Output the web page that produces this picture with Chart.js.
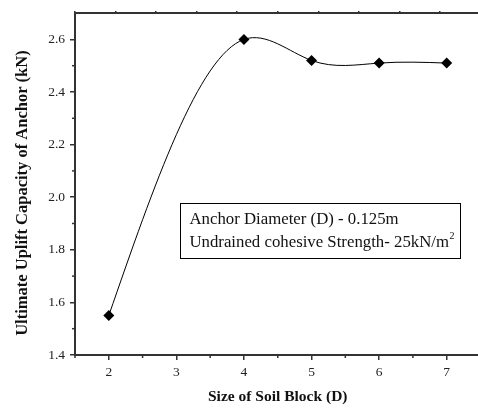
<!DOCTYPE html>
<html><head><meta charset="utf-8">
<script src="https://cdn.jsdelivr.net/npm/chart.js@4/dist/chart.umd.min.js"></script>
<style>html,body{margin:0;padding:0;background:#fff;overflow:hidden;width:478px;height:408px}
#wrap{width:486px;height:408px;position:relative}</style></head>
<body><div id="wrap"><canvas id="c" width="486" height="408"></canvas></div>
<script>
const soilBlockSize = [2, 4, 5, 6, 7];
const upliftCapacity = [1.55, 2.60, 2.52, 2.51, 2.51];
const xTickLabels = ['2', '3', '4', '5', '6', '7'];
const yTickLabels = ['1.4', '1.6', '1.8', '2.0', '2.2', '2.4', '2.6'];
const xTitle = 'Size of Soil Block (D)';
const yTitle = 'Ultimate Uplift Capacity of Anchor (kN)';
const noteLines = ['Anchor Diameter (D) - 0.125m', 'Undrained cohesive Strength- 25kN/m'];
const noteSup = '2';

const SERIF = '"Liberation Serif", "Times New Roman", serif';
const AXIS = '#333';

const points = soilBlockSize.map((x, i) => ({x: x, y: upliftCapacity[i]}));

function isMajorX(v) { return xTickLabels.includes(String(Math.round(v * 10) / 10)); }
function isMajorY(v) { return yTickLabels.includes((Math.round(v * 10) / 10).toFixed(1)); }

// Natural cubic spline second derivatives (like Origin's spline connection)
function splineSecondDerivs(X, Y) {
  const n = X.length, M = new Array(n).fill(0);
  if (n < 3) return M;
  const a = [], b = [], c = [], d = [];
  for (let i = 1; i < n - 1; i++) {
    const h0 = X[i] - X[i - 1], h1 = X[i + 1] - X[i];
    a.push(h0); b.push(2 * (h0 + h1)); c.push(h1);
    d.push(6 * ((Y[i + 1] - Y[i]) / h1 - (Y[i] - Y[i - 1]) / h0));
  }
  const m = b.length;
  for (let i = 1; i < m; i++) {
    const w = a[i] / b[i - 1];
    b[i] -= w * c[i - 1]; d[i] -= w * d[i - 1];
  }
  const sol = new Array(m);
  sol[m - 1] = d[m - 1] / b[m - 1];
  for (let i = m - 2; i >= 0; i--) sol[i] = (d[i] - c[i] * sol[i + 1]) / b[i];
  for (let i = 0; i < m; i++) M[i + 1] = sol[i];
  return M;
}

const naturalSpline = {
  id: 'naturalSpline',
  beforeDatasetDraw(chart, args) {
    const meta = args.meta, pts = meta.data, xs = chart.scales.x, ys = chart.scales.y;
    const X = soilBlockSize, Y = upliftCapacity, M = splineSecondDerivs(X, Y);
    for (let i = 0; i < X.length - 1; i++) {
      const h = X[i + 1] - X[i], s = (Y[i + 1] - Y[i]) / h;
      const mL = s - h * (2 * M[i] + M[i + 1]) / 6;
      const mR = s + h * (M[i] + 2 * M[i + 1]) / 6;
      pts[i].cp2x = xs.getPixelForValue(X[i] + h / 3);
      pts[i].cp2y = ys.getPixelForValue(Y[i] + h * mL / 3);
      pts[i + 1].cp1x = xs.getPixelForValue(X[i + 1] - h / 3);
      pts[i + 1].cp1y = ys.getPixelForValue(Y[i + 1] - h * mR / 3);
    }
    pts[0].cp1x = pts[0].x; pts[0].cp1y = pts[0].y;
    const last = pts[pts.length - 1];
    last.cp2x = last.x; last.cp2y = last.y;
    meta.dataset._pointsUpdated = true;
    meta.dataset._path = undefined;
  }
};

const minorTicks = {
  id: 'minorTicks',
  afterDraw(chart) {
    const ctx = chart.ctx, xs = chart.scales.x, ys = chart.scales.y;
    ctx.save();
    ctx.strokeStyle = AXIS; ctx.lineWidth = 1.5;
    xs.ticks.forEach(t => {
      if (!isMajorX(t.value)) {
        const px = xs.getPixelForValue(t.value);
        ctx.beginPath(); ctx.moveTo(px, xs.top); ctx.lineTo(px, xs.top + 3); ctx.stroke();
      }
    });
    ys.ticks.forEach(t => {
      if (!isMajorY(t.value) && t.value < ys.max) {
        const py = ys.getPixelForValue(t.value);
        ctx.beginPath(); ctx.moveTo(ys.right, py); ctx.lineTo(ys.right - 3, py); ctx.stroke();
      }
    });
    // y axis title
    const cy = (chart.chartArea.top + chart.chartArea.bottom) / 2 + 9;
    ctx.translate(27, cy);
    ctx.rotate(-Math.PI / 2);
    ctx.font = 'bold 16.5px ' + SERIF;
    ctx.fillStyle = '#111';
    ctx.textAlign = 'center';
    ctx.textBaseline = 'alphabetic';
    ctx.fillText(yTitle, 0, 0);
    ctx.restore();
  }
};

const noteBox = {
  id: 'noteBox',
  afterDraw(chart) {
    const ctx = chart.ctx, xs = chart.scales.x, ys = chart.scales.y;
    const l = xs.getPixelForValue(3.06), r = xs.getPixelForValue(7.21);
    const t = ys.getPixelForValue(1.979), b = ys.getPixelForValue(1.769);
    ctx.save();
    ctx.strokeStyle = '#000'; ctx.lineWidth = 1;
    ctx.strokeRect(Math.round(l) + 0.5, Math.round(t) + 0.5, Math.round(r - l), Math.round(b - t));
    ctx.fillStyle = '#111';
    ctx.textBaseline = 'alphabetic';
    ctx.font = '16.8px ' + SERIF;
    ctx.fillText(noteLines[0], l + 9, t + 21);
    ctx.fillText(noteLines[1], l + 9, t + 44.5);
    const w = ctx.measureText(noteLines[1]).width;
    ctx.font = '10px ' + SERIF;
    ctx.fillText(noteSup, l + 9 + w + 0.5, t + 36);
    ctx.restore();
  }
};

new Chart(document.getElementById('c'), {
  type: 'line',
  data: {
    datasets: [{
      data: points,
      borderColor: '#000',
      borderWidth: 1,
      backgroundColor: '#000',
      pointStyle: 'rectRot',
      pointRadius: 5.5,
      pointBorderWidth: 0,
      pointBackgroundColor: '#000',
      tension: 0.4,
      fill: false
    }]
  },
  options: {
    responsive: false,
    animation: false,
    layout: {padding: {left: 0, right: 1, top: 0, bottom: 0}},
    plugins: {legend: {display: false}, tooltip: {enabled: false}},
    scales: {
      x: {
        type: 'linear', min: 1.5, max: 7.5,
        afterFit(s) { s.height = 53; },
        border: {display: true, color: AXIS, width: 2},
        grid: {drawOnChartArea: false, tickLength: 5, lineWidth: 1.5,
          tickColor: c => (c.tick && isMajorX(c.tick.value)) ? AXIS : 'rgba(0,0,0,0)'},
        ticks: {stepSize: 0.5, autoSkip: false, maxRotation: 0, padding: 4,
          color: '#222', font: {family: SERIF, size: 13.5},
          callback: v => isMajorX(v) ? String(Math.round(v)) : ''},
        title: {display: true, text: xTitle, color: '#111',
          font: {family: SERIF, size: 15.5, weight: 'bold'}, padding: {top: 0, bottom: 2}}
      },
      x2: {
        type: 'linear', position: 'top', min: 0, max: 10,
        afterFit(s) { s.height = 10; },
        border: {display: true, color: AXIS, width: 2},
        grid: {drawOnChartArea: false, tickLength: 2, lineWidth: 1.5, color: AXIS},
        ticks: {display: false, stepSize: 1}
      },
      y: {
        type: 'linear', min: 1.4, max: 2.7,
        afterFit(s) { s.width = 75; },
        border: {display: true, color: AXIS, width: 2},
        grid: {drawOnChartArea: false, tickLength: 5, lineWidth: 1.5,
          tickColor: c => (c.tick && isMajorY(c.tick.value)) ? AXIS : 'rgba(0,0,0,0)'},
        ticks: {stepSize: 0.1, autoSkip: false, padding: 5,
          color: '#222', font: {family: SERIF, size: 13.5},
          callback: v => isMajorY(v) ? (Math.round(v * 10) / 10).toFixed(1) : ''},
        title: {display: false}
      }
    }
  },
  plugins: [naturalSpline, minorTicks, noteBox]
});
</script></body></html>
